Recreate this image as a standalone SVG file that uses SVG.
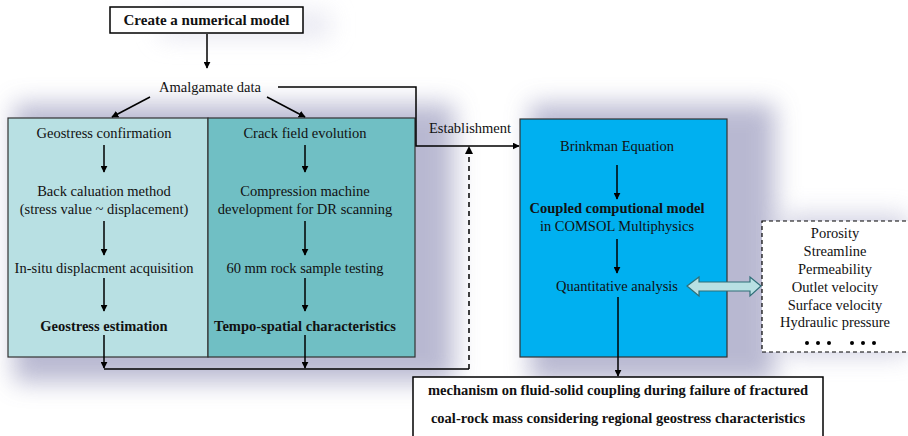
<svg xmlns="http://www.w3.org/2000/svg" width="908" height="436" viewBox="0 0 908 436" font-family="'Liberation Serif', 'DejaVu Serif', 'Times New Roman', serif">
<defs>
<filter id="blur" x="-30%" y="-30%" width="160%" height="160%"><feGaussianBlur stdDeviation="12"/></filter>
<marker id="ah" viewBox="0 0 10 10" refX="9" refY="5" markerWidth="7" markerHeight="7" markerUnits="userSpaceOnUse" orient="auto"><path d="M0,0 L10,5 L0,10 z" fill="#000"/></marker>
<style>
text{font-family:'Liberation Serif','DejaVu Serif','Times New Roman',serif;font-size:14.5px;fill:#111;text-anchor:middle}
.b{font-weight:bold}
.ln{stroke:#000;stroke-width:1.5;fill:none}
.ar{stroke:#000;stroke-width:1.5;fill:none;marker-end:url(#ah)}
.dash{stroke:#000;stroke-width:1.5;fill:none;stroke-dasharray:5,4}
.box{stroke:#333;stroke-width:1.2}
</style>
</defs>
<rect width="908" height="436" fill="#fff"/>
<g id="shadows" filter="url(#blur)" opacity="0.8">
<rect x="14" y="104" width="440" height="278" fill="#a7a7c6"/>
<rect x="530" y="104" width="245" height="278" fill="#a7a7c6"/>
<rect x="785" y="215" width="123" height="140" fill="#c4c4da"/>
<rect x="160" y="12" width="170" height="26" fill="#e2e2ee"/>
</g>
<g id="create">
<rect x="110" y="7" width="193" height="26" fill="#fff" stroke="#000" stroke-width="1.5"/>
<text class="b" x="206.5" y="25" style="font-size:15px">Create a numerical model</text>
</g>
<g id="amalgamate">
<text x="210" y="92">Amalgamate data</text>
</g>
<g id="left-panel">
<rect class="box" x="8" y="118" width="200" height="239" fill="#b8e0e3"/>
<text x="104" y="138">Geostress confirmation</text>
<text x="104" y="196">Back caluation method</text>
<text x="104" y="214">(stress value ~ displacement)</text>
<text x="104" y="273">In-situ displacment acquisition</text>
<text class="b" x="104" y="331">Geostress estimation</text>
</g>
<g id="right-panel">
<rect class="box" x="208" y="118" width="207" height="239" fill="#70bfc4"/>
<text x="305" y="138">Crack field evolution</text>
<text x="305" y="196">Compression machine</text>
<text x="305" y="214">development for DR scanning</text>
<text x="305" y="273">60 mm rock sample testing</text>
<text class="b" x="305" y="331">Tempo-spatial characteristics</text>
</g>
<g id="comsol">
<rect class="box" x="520" y="119" width="207" height="238" fill="#00b0f0"/>
<text x="617" y="151">Brinkman Equation</text>
<text class="b" x="617" y="213">Coupled computional model</text>
<text x="617" y="231">in COMSOL Multiphysics</text>
<text x="617" y="291">Quantitative analysis</text>
</g>
<g id="outputs">
<rect x="762" y="221" width="150" height="131" fill="#fff" stroke="#000" stroke-width="1.2" stroke-dasharray="4,3"/>
<text x="835" y="238">Porosity</text>
<text x="835" y="256">Streamline</text>
<text x="835" y="274">Permeability</text>
<text x="835" y="292">Outlet velocity</text>
<text x="835" y="310">Surface velocity</text>
<text x="835" y="327">Hydraulic pressure</text>
<g fill="#000"><circle cx="807" cy="343" r="2"/><circle cx="818" cy="343" r="2"/><circle cx="829" cy="343" r="2"/><circle cx="852" cy="343" r="2"/><circle cx="863" cy="343" r="2"/><circle cx="874" cy="343" r="2"/></g>
</g>
<g id="result">
<rect x="413" y="377" width="410" height="64" fill="#fff" stroke="#000" stroke-width="1.5"/>
<text class="b" x="618" y="395">mechanism on fluid-solid coupling during failure of fractured</text>
<text class="b" x="618" y="423">coal-rock mass considering regional geostress characteristics</text>
</g>
<g id="connectors">
<line class="ar" x1="207" y1="34" x2="207" y2="68"/>
<line class="ar" x1="150" y1="97" x2="112" y2="117"/>
<line class="ar" x1="267" y1="97" x2="305" y2="117"/>
<polyline class="ar" points="278,87 416,87 416,146 519,146"/>
<text x="470" y="133">Establishment</text>
<line class="ar" x1="104" y1="145" x2="104" y2="172"/>
<line class="ar" x1="104" y1="221" x2="104" y2="255"/>
<line class="ar" x1="104" y1="278" x2="104" y2="311"/>
<line class="ar" x1="104" y1="335" x2="104" y2="368"/>
<line class="ar" x1="305" y1="145" x2="305" y2="172"/>
<line class="ar" x1="305" y1="221" x2="305" y2="255"/>
<line class="ar" x1="305" y1="278" x2="305" y2="311"/>
<line class="ar" x1="305" y1="335" x2="305" y2="368"/>
<polyline class="ln" points="104,369 469,369"/>
<line class="dash" x1="469" y1="369" x2="469" y2="152"/>
<path d="M465,154 L469,146 L473,154 z" fill="#000"/>
<line class="ar" x1="617" y1="165" x2="617" y2="199"/>
<line class="ar" x1="617" y1="239" x2="617" y2="273"/>
<line class="ar" x1="618" y1="297" x2="618" y2="376"/>
<path d="M687,286 L699,277 L699,282 L750,282 L750,277 L761,286 L750,296 L750,291 L699,291 L699,296 z" fill="#b8e0e3" stroke="#2f6f78" stroke-width="1.2"/>
</g>
</svg>
